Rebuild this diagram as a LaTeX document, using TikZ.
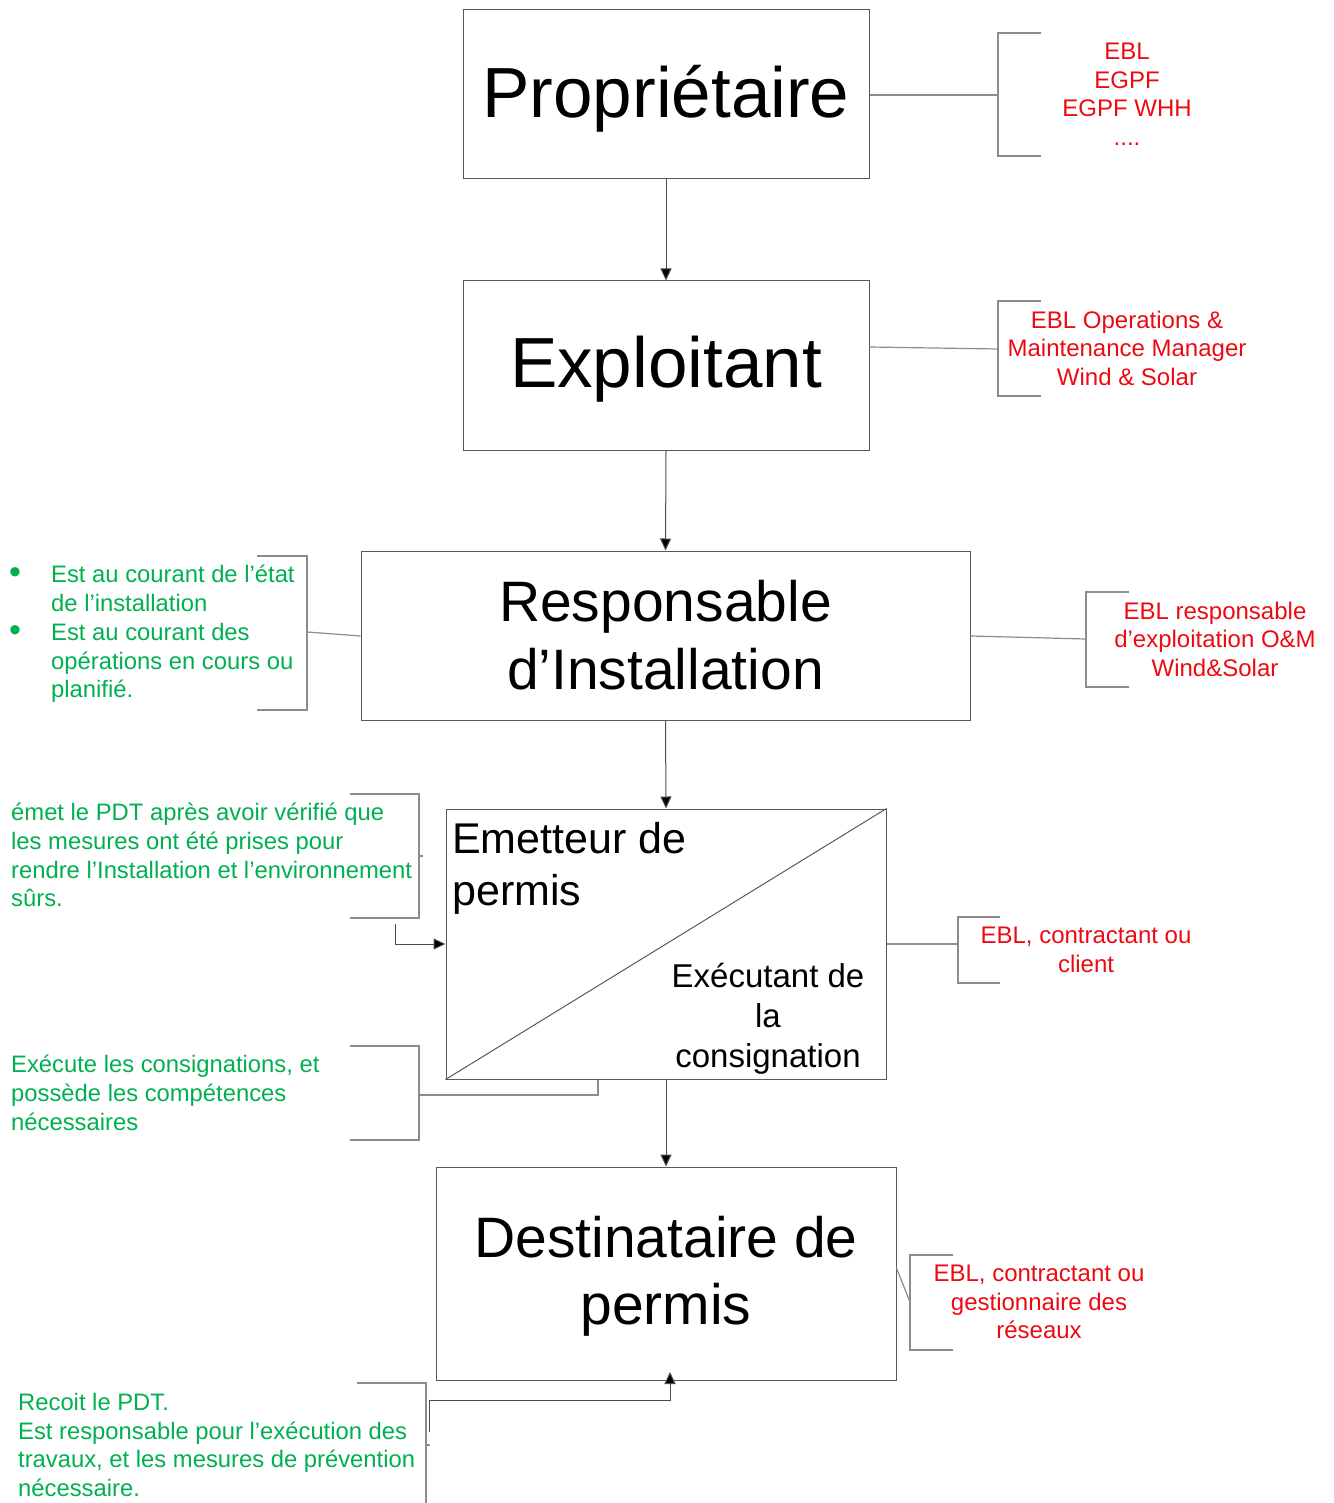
\documentclass[tikz,border=0pt]{standalone}
\usepackage{fontspec}
\setmainfont{Liberation Sans}
\usetikzlibrary{arrows.meta}
\definecolor{grn}{RGB}{0,176,80}
\definecolor{rd}{RGB}{236,10,18}
\newcommand{\mybul}{\makebox[42pt][l]{\raisebox{-1pt}{\fontsize{34}{34}\selectfont •}}}
\newcommand{\dropit}[2]{\raisebox{-#1}[\height][\depth]{#2}}
\begin{document}
\begin{tikzpicture}[x=1pt,y=-1pt,
 box/.style={draw=black!65, line width=1pt, inner sep=0pt, align=center},
 conn/.style={draw=black!70, line width=1pt, -{Triangle[length=12pt,width=11pt,fill=black]}},
 brk/.style={draw=black!45, line width=1.2pt},
 redtxt/.style={text=rd, font=\fontsize{24}{28.5}\selectfont, align=center, inner sep=0pt},
 grntxt/.style={text=grn, font=\fontsize{23.8}{28.8}\selectfont, align=left, inner sep=0pt, anchor=west},
 bigtxt/.style={font=\fontsize{71}{80}\selectfont},
 midtxt/.style={font=\fontsize{57}{68}\selectfont}]
\useasboundingbox (0,0) rectangle (1333,1503);

% main boxes
\node[box, bigtxt, minimum width=406pt, minimum height=169pt] (prop) at (666,94.5) {\dropit{4pt}{Propriétaire}};
\node[box, bigtxt, minimum width=406pt, minimum height=169pt] (expl) at (666,365.5) {\dropit{4pt}{Exploitant}};
\node[box, midtxt, minimum width=609pt, minimum height=169pt] (resp) at (665.5,635.5) {Responsable\\d’Installation};
\node[box, minimum width=440pt, minimum height=270pt] (emet) at (666,944) {};
\draw[draw=black!65, line width=1pt] (emet.south west) -- (emet.north east);
\node[font=\fontsize{43}{52}\selectfont, align=left, anchor=north west, inner sep=0pt] (emtxt) at (452,822) {Emetteur de\\permis};
\node[font=\fontsize{33}{40}\selectfont, align=center, inner sep=0pt] (extxt) at (768,1019) {Exécutant de\\la\\consignation};
\node[box, midtxt, minimum width=460pt, minimum height=213pt] (dest) at (666,1273.5) {\dropit{4pt}{\begin{tabular}{@{}c@{}}Destinataire de\\[-0.5pt]permis\end{tabular}}};

% main arrows
\draw[conn] (prop.south) -- (expl.north);
\draw[conn] (expl.south) -- (resp.north);
\draw[conn] (resp.south) -- (emet.north);
\draw[conn] (emet.south) -- (dest.north);

% right brackets
\coordinate (b1) at (998,95);
\draw[brk] (prop.east |- b1) -- (b1);
\draw[brk] (1041,33) -- (998,33) -- (998,156) -- (1041,156);
\node[redtxt] (r1) at (1127,94) {EBL\\EGPF\\EGPF WHH\\....};

\coordinate (b2) at (998,349);
\draw[brk] (expl.east |- 0,347) -- (b2);
\draw[brk] (1041,301) -- (998,301) -- (998,396) -- (1041,396);
\node[redtxt] (r2) at (1127,348) {EBL Operations \&\\Maintenance Manager\\Wind \& Solar};

\coordinate (b3) at (1086,639);
\draw[brk] (resp.east |- 0,636) -- (b3);
\draw[brk] (1129,592) -- (1086,592) -- (1086,687) -- (1129,687);
\node[redtxt] (r3) at (1215,639) {EBL responsable\\d’exploitation O\&M\\Wind\&Solar};

\coordinate (b4) at (958,944);
\draw[brk] (emet.east) -- (b4);
\draw[brk] (1000,917) -- (958,917) -- (958,983) -- (1000,983);
\node[redtxt] (r4) at (1086,950) {EBL, contractant ou\\client};

\coordinate (b5) at (910,1302);
\draw[brk] (dest.east |- 0,1268) -- (b5);
\draw[brk] (953,1255) -- (910,1255) -- (910,1350) -- (953,1350);
\node[redtxt] (r5) at (1039,1302) {EBL, contractant ou\\gestionnaire des\\réseaux};

% left brackets
\coordinate (l1) at (307,632);
\draw[brk] (257,556) -- (307,556) -- (307,710) -- (257,710);
\draw[brk] (l1) -- (resp.west |- 0,636);
\node[grntxt] (g1) at (9,634) {\mybul Est au courant de l’état\\\hspace*{42pt}de l’installation\\\mybul Est au courant des\\\hspace*{42pt}opérations en cours ou\\\hspace*{42pt}planifié.};

\draw[brk] (350,794) -- (419,794) -- (419,918) -- (350,918);
\draw[brk] (419,856) -- (423,856);
\coordinate (a2) at (395,924);
\draw[conn] (a2) -- (395,944) -- (emet.west);
\node[grntxt] (g2) at (11,855) {émet le PDT après avoir vérifié que\\les mesures ont été prises pour\\rendre l’Installation et l’environnement\\sûrs.};

\draw[brk] (350,1046) -- (419,1046) -- (419,1140) -- (350,1140);
\coordinate (l3) at (420,1095);
\draw[brk] (l3) -- (598,1095) -- (emet.south -| 598,0);
\node[grntxt] (g3) at (11,1093) {Exécute les consignations, et\\possède les compétences\\nécessaires};

\draw[brk] (357,1383) -- (426,1383) -- (426,1503);
\draw[brk] (426,1445) -- (430,1445);
\coordinate (a4) at (429,1432);
\coordinate (d4) at (670,1372);
\draw[conn] (a4) -- (429,1400) -- (670,1400) -- (d4);
\node[grntxt] (g4) at (18,1445) {Recoit le PDT.\\Est responsable pour l’exécution des\\travaux, et les mesures de prévention\\nécessaire.};
\end{tikzpicture}
\end{document}
